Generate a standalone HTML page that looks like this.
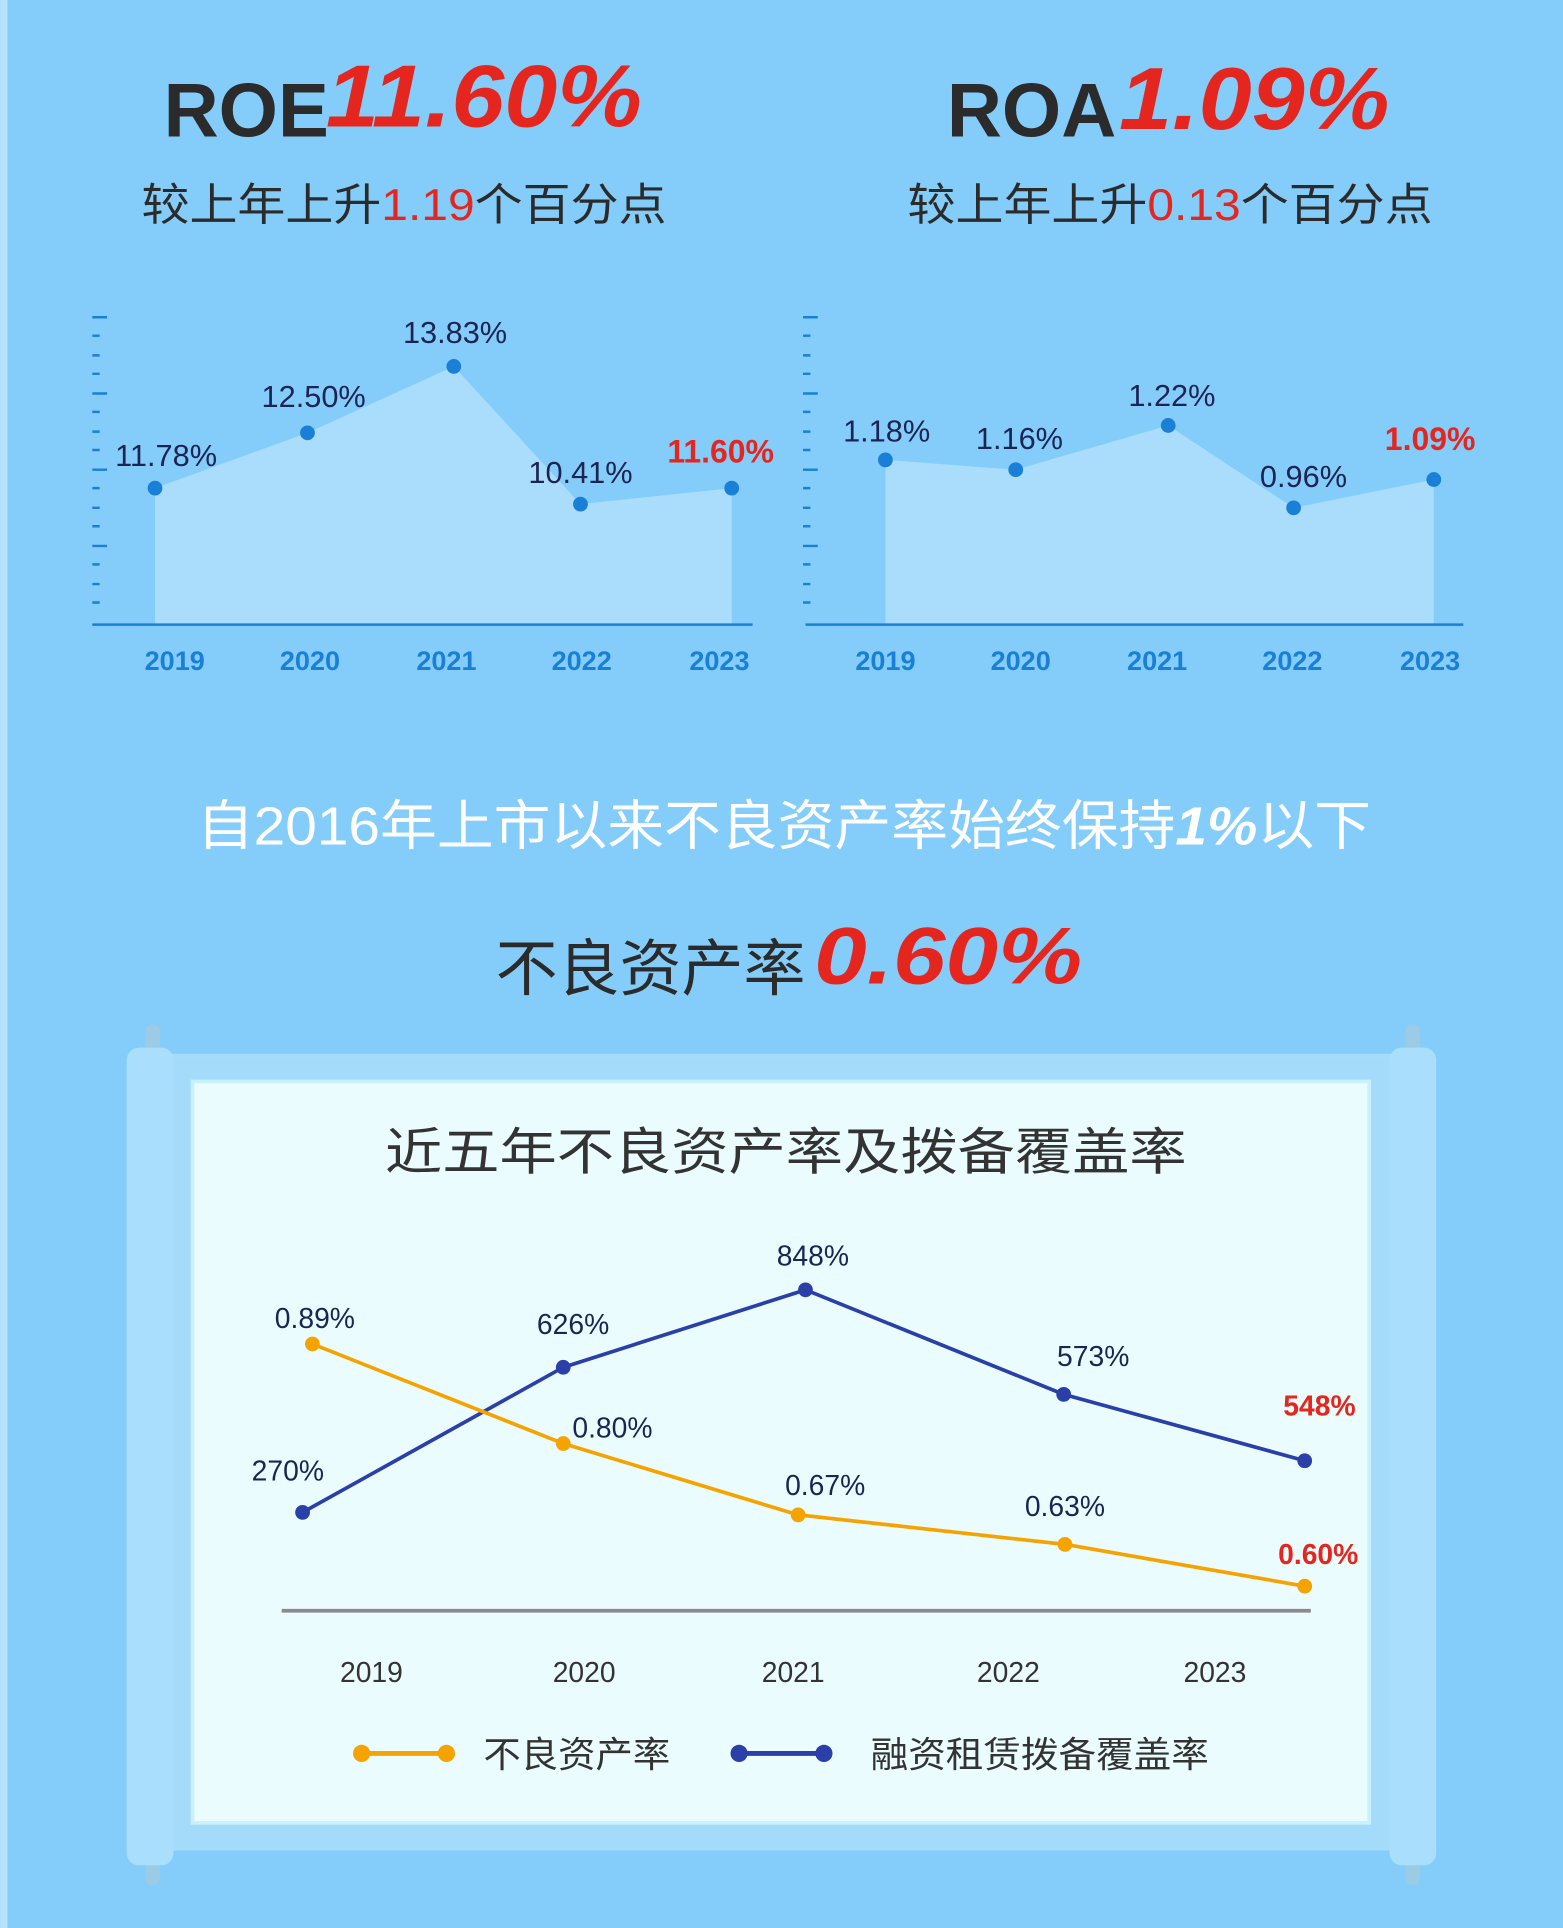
<!DOCTYPE html>
<html><head><meta charset="utf-8"><style>
html,body{margin:0;padding:0;background:#84cdfa}
svg{display:block}
text{font-family:"Liberation Sans","Noto Sans CJK SC",sans-serif}
</style></head><body>
<svg width="1563" height="1928" viewBox="0 0 1271 1568" xmlns="http://www.w3.org/2000/svg">
<rect width="1271" height="1568" fill="#84cdfa"/>
<rect x="0" y="0" width="6" height="1568" fill="#b5e2fc"/>
<!-- header -->
<text x="133" y="111" font-size="62" font-weight="bold" fill="#2b2b2b">ROE</text>
<text x="265" y="103" font-size="72" font-style="italic" font-weight="bold" fill="#e5261f" textLength="257" lengthAdjust="spacingAndGlyphs">11.60%</text>
<text x="115" y="179" font-size="36" fill="#2b2b2b" textLength="427" lengthAdjust="spacingAndGlyphs">较上年上升<tspan fill="#e5261f">1.19</tspan>个百分点</text>
<text x="770" y="111" font-size="62" font-weight="bold" fill="#2b2b2b">ROA</text>
<text x="910" y="105" font-size="72" font-style="italic" font-weight="bold" fill="#e5261f" textLength="220" lengthAdjust="spacingAndGlyphs">1.09%</text>
<text x="738" y="179" font-size="36" fill="#2b2b2b" textLength="427" lengthAdjust="spacingAndGlyphs">较上年上升<tspan fill="#e5261f">0.13</tspan>个百分点</text>
<!-- left chart -->
<g stroke="#1a7fd6" stroke-width="2">
<path d="M75 258h12M75 273h6M75 289h6M75 304h6M75 320h12M75 335h6M75 351h6M75 366h6M75 382h12M75 397h6M75 413h6M75 428h6M75 444h12M75 459h6M75 475h6M75 490h6"/>
<path d="M653 258h12M653 273h6M653 289h6M653 304h6M653 320h12M653 335h6M653 351h6M653 366h6M653 382h12M653 397h6M653 413h6M653 428h6M653 444h12M653 459h6M653 475h6M653 490h6"/>
</g>
<path d="M126 508V397L250 352L369 298L472 410L595 397V508Z" fill="#aadcfb"/>
<path d="M720 508V374L826 382L950 346L1052 413L1166 390V508Z" fill="#aadcfb"/>
<line x1="75" y1="508" x2="612" y2="508" stroke="#1a7fd6" stroke-width="2"/>
<line x1="655" y1="508" x2="1190" y2="508" stroke="#1a7fd6" stroke-width="2"/>
<g fill="#1a7fd6">
<circle cx="126" cy="397" r="6"/><circle cx="250" cy="352" r="6"/><circle cx="369" cy="298" r="6"/><circle cx="472" cy="410" r="6"/><circle cx="595" cy="397" r="6"/>
<circle cx="720" cy="374" r="6"/><circle cx="826" cy="382" r="6"/><circle cx="950" cy="346" r="6"/><circle cx="1052" cy="413" r="6"/><circle cx="1166" cy="390" r="6"/>
</g>
<g font-size="25" fill="#1c2454" text-anchor="middle">
<text x="135" y="379">11.78%</text><text x="255" y="331">12.50%</text><text x="370" y="279">13.83%</text><text x="472" y="393">10.41%</text>
<text x="721" y="359">1.18%</text><text x="829" y="365">1.16%</text><text x="953" y="330">1.22%</text><text x="1060" y="396">0.96%</text>
</g>
<g font-size="26" font-weight="bold" fill="#e5261f" text-anchor="middle">
<text x="586" y="376">11.60%</text><text x="1163" y="366">1.09%</text>
</g>
<g font-size="22" font-weight="bold" fill="#1a7fd6" text-anchor="middle">
<text x="142" y="545">2019</text><text x="252" y="545">2020</text><text x="363" y="545">2021</text><text x="473" y="545">2022</text><text x="585" y="545">2023</text>
<text x="720" y="545">2019</text><text x="830" y="545">2020</text><text x="941" y="545">2021</text><text x="1051" y="545">2022</text><text x="1163" y="545">2023</text>
</g>
<!-- headline -->
<text x="160" y="687" font-size="44" fill="#ffffff" textLength="955" lengthAdjust="spacingAndGlyphs">自2016年上市以来不良资产率始终保持<tspan font-style="italic" font-weight="bold">1%</tspan>以下</text>
<text x="403" y="805" font-size="50" fill="#2b2b2b" textLength="252" lengthAdjust="spacingAndGlyphs">不良资产率</text>
<text x="662" y="800" font-size="66" font-style="italic" font-weight="bold" fill="#e5261f" textLength="218" lengthAdjust="spacingAndGlyphs">0.60%</text>
<!-- scroll -->
<rect x="118" y="833" width="12" height="700" rx="6" fill="#9ccbe6"/>
<rect x="1143" y="833" width="12" height="700" rx="6" fill="#9ccbe6"/>
<rect x="120" y="857" width="1030" height="648" fill="#a6dcfa"/>
<rect x="103" y="852" width="38" height="665" rx="10" fill="#a9defc"/>
<rect x="1130" y="852" width="38" height="665" rx="10" fill="#a9defc"/>
<rect x="141" y="860" width="989" height="643" fill="#a4dbfa"/>
<rect x="155" y="878" width="960" height="606" fill="#c9f0fd"/>
<rect x="158" y="881" width="954" height="600" fill="#eafcfd"/>
<text x="313" y="951" font-size="41" fill="#333" textLength="652" lengthAdjust="spacingAndGlyphs">近五年不良资产率及拨备覆盖率</text>
<polyline points="246,1230 458,1112 655,1049 865,1134 1061,1188" fill="none" stroke="#2a3fa8" stroke-width="3"/>
<polyline points="254,1093 458,1174 649,1232 866,1256 1061,1290" fill="none" stroke="#f5a300" stroke-width="3"/>
<g fill="#2a3fa8"><circle cx="246" cy="1230" r="6"/><circle cx="458" cy="1112" r="6"/><circle cx="655" cy="1049" r="6"/><circle cx="865" cy="1134" r="6"/><circle cx="1061" cy="1188" r="6"/></g>
<g fill="#f5a300"><circle cx="254" cy="1093" r="6"/><circle cx="458" cy="1174" r="6"/><circle cx="649" cy="1232" r="6"/><circle cx="866" cy="1256" r="6"/><circle cx="1061" cy="1290" r="6"/></g>
<g font-size="23" fill="#1c2454" text-anchor="middle">
<text x="256" y="1080">0.89%</text><text x="466" y="1085">626%</text><text x="661" y="1029">848%</text><text x="889" y="1111">573%</text>
<text x="234" y="1204">270%</text><text x="498" y="1169">0.80%</text><text x="671" y="1216">0.67%</text><text x="866" y="1233">0.63%</text>
</g>
<g font-size="23" font-weight="bold" fill="#e5261f" text-anchor="middle"><text x="1073" y="1151">548%</text><text x="1072" y="1272">0.60%</text></g>
<line x1="229" y1="1310" x2="1066" y2="1310" stroke="#8a8a8a" stroke-width="3"/>
<g font-size="23" fill="#333" text-anchor="middle">
<text x="302" y="1368">2019</text><text x="475" y="1368">2020</text><text x="645" y="1368">2021</text><text x="820" y="1368">2022</text><text x="988" y="1368">2023</text>
</g>
<line x1="294" y1="1426" x2="363" y2="1426" stroke="#f5a300" stroke-width="4"/>
<circle cx="294" cy="1426" r="7" fill="#f5a300"/><circle cx="363" cy="1426" r="7" fill="#f5a300"/>
<text x="393" y="1437" font-size="29" fill="#333" textLength="152" lengthAdjust="spacingAndGlyphs">不良资产率</text>
<line x1="601" y1="1426" x2="670" y2="1426" stroke="#2a3fa8" stroke-width="4"/>
<circle cx="601" cy="1426" r="7" fill="#2a3fa8"/><circle cx="670" cy="1426" r="7" fill="#2a3fa8"/>
<text x="708" y="1437" font-size="29" fill="#333" textLength="275" lengthAdjust="spacingAndGlyphs">融资租赁拨备覆盖率</text>
</svg>
</body></html>
